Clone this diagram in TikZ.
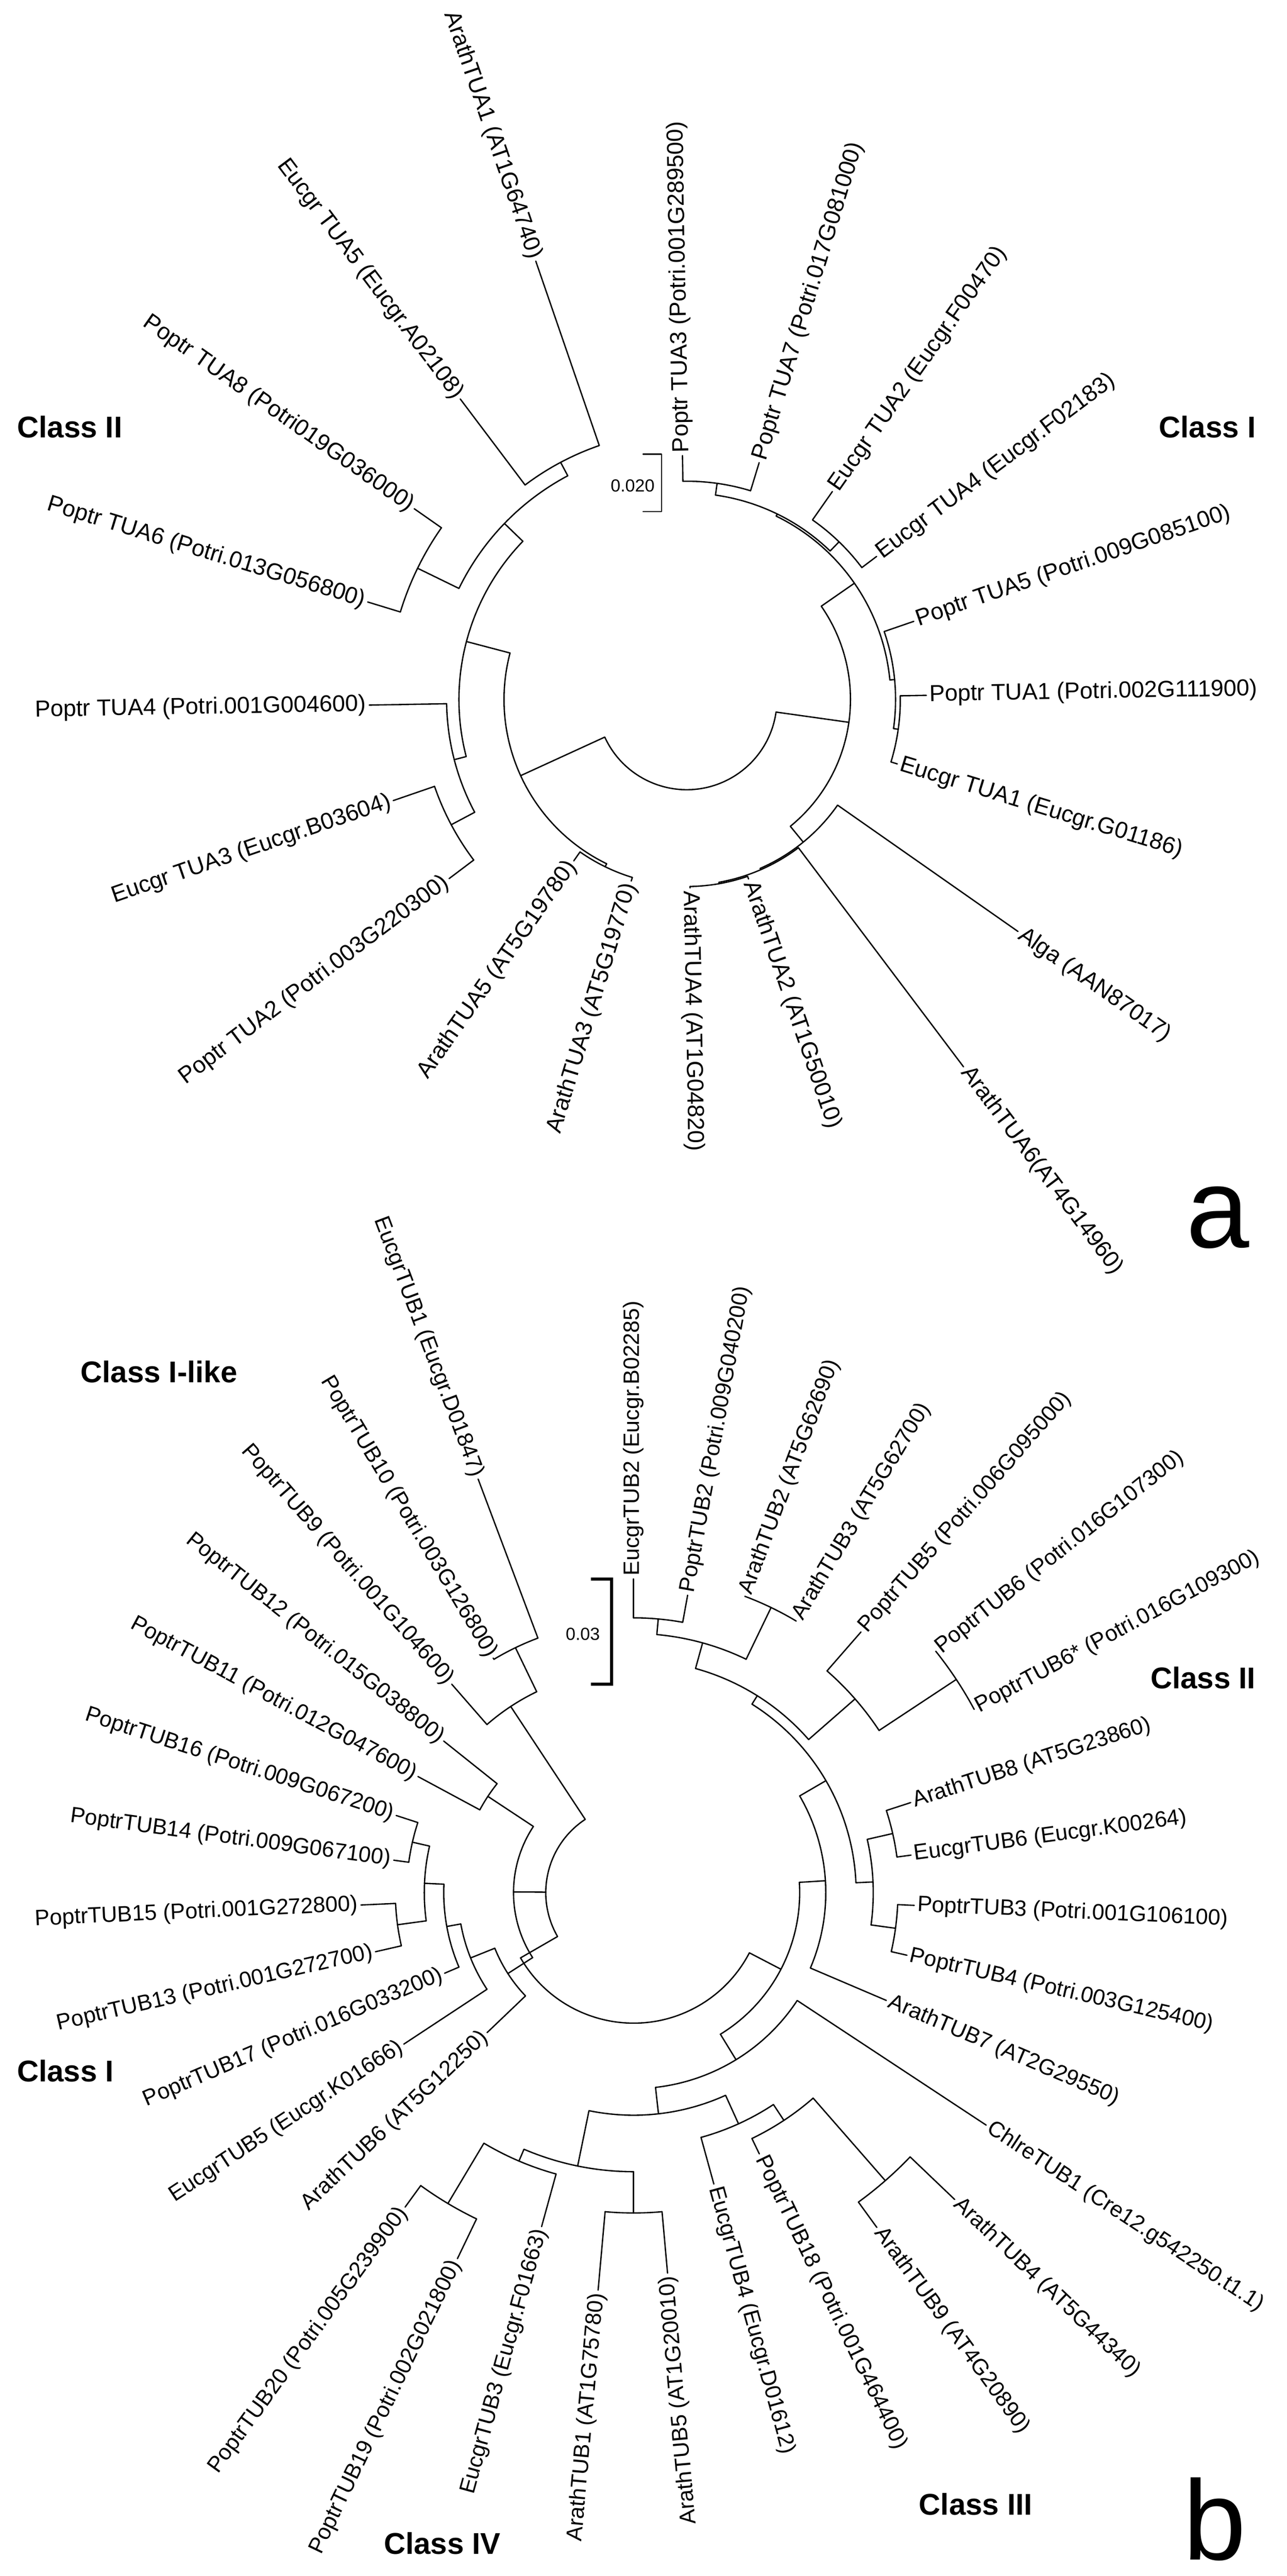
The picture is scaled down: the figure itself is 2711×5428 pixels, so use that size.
\documentclass[tikz,border=0pt]{standalone}
\usepackage{fontspec}
\setmainfont{Liberation Sans}
\tikzset{
  br/.style={line width=0.8pt, line cap=round, line join=round},
  laba/.style={font=\fontsize{13.9}{16}\selectfont, inner sep=0pt},
  labb/.style={font=\fontsize{13.3}{15}\selectfont, inner sep=0pt},
  cls/.style={font=\fontsize{18}{20}\selectfont\bfseries, inner sep=0pt},
  pan/.style={font=\fontsize{68}{70}\selectfont, inner sep=0pt},
  sbl/.style={font=\fontsize{10.5}{12}\selectfont, inner sep=0pt}
}
% internal node: start angle, end angle, radius, parent radius
\newcommand\nd[4]{%
  \pgfmathsetmacro\ndm{(#1+#2)/2}%
  \draw[br] ({#1}:{#3}) arc[start angle={#1},end angle={#2},radius={#3*0.1mm}];
  \draw[br] (\ndm:{#4}) -- (\ndm:{#3});}
% plain arc: start, end, radius
\newcommand\ac[3]{\draw[br] ({#1}:{#3}) arc[start angle={#1},end angle={#2},radius={#3*0.1mm}];}
% leaf, label reading outward: angle, base radius, tip radius, name, text
\newcommand\lfR[5]{%
  \draw[br] ({#1}:{#2}) -- ({#1}:{#3});
  \node[lab,anchor=west,rotate={#1}] (#4) at ({#1}:{#3+6}) {#5};}
% leaf, label flipped
\newcommand\lfL[5]{%
  \draw[br] ({#1}:{#2}) -- ({#1}:{#3});
  \node[lab,anchor=east,rotate={#1+180}] (#4) at ({#1}:{#3+6}) {#5};}
\begin{document}
\begin{tikzpicture}[x=0.1mm,y=0.1mm]
\useasboundingbox (0,0) rectangle (2711,-5428);
\fill[white] (0,0) rectangle (2711,-5428);

% ================= panel a =================
\begin{scope}[shift={(1447,-1474)}, lab/.style={laba}]
\lfR{1}{450}{505}{aTUA1}{Poptr TUA1 (Potri.002G111900)}
\lfR{19}{440}{506}{aTUA5}{Poptr TUA5 (Potri.009G085100)}
\lfR{37}{462}{501}{aETUA4}{Eucgr TUA4 (Eucgr.F02183)}
\lfR{55}{462}{535}{aETUA2}{Eucgr TUA2 (Eucgr.F00470)}
\lfR{73}{460}{522}{aTUA7}{Poptr TUA7 (Potri.017G081000)}
\lfR{91}{460}{514}{aTUA3}{Poptr TUA3 (Potri.001G289500)}
\lfL{109}{566}{977}{aATUA1}{ArathTUA1 (AT1G64740)}
\lfL{127}{566}{793}{aETUA5}{Eucgr TUA5 (Eucgr.A02108)}
\lfL{145}{631}{701}{aTUA8}{Poptr TUA8 (Potri019G036000)}
\lfL{163}{631}{703}{aTUA6}{Poptr TUA6 (Potri.013G056800)}
\lfL{181}{506}{669}{aTUA4}{Poptr TUA4 (Potri.001G004600)}
\lfL{199}{562}{654}{aETUA3}{Eucgr TUA3 (Eucgr.B03604)}
\lfL{217}{562}{627}{aTUA2}{Poptr TUA2 (Potri.003G220300)}
\lfL{235}{392}{415}{aATUA5}{ArathTUA5 (AT5G19780)}
\lfL{253}{392}{400}{aATUA3}{ArathTUA3 (AT5G19770)}
\lfR{271}{394}{397}{aATUA4}{ArathTUA4 (AT1G04820)}
\lfR{289}{394}{400}{aATUA2}{ArathTUA2 (AT1G50010)}
\lfR{307}{391}{969}{aATUA6}{ArathTUA6(AT4G14960)}
\lfR{325}{388}{852}{aAlga}{Alga (AAN87017)}
\lfR{343}{450}{464}{aETUA1}{Eucgr TUA1 (Eucgr.G01186)}
% Class I clade
\nd{-17}{1}{450}{440}
\nd{-8}{19}{440}{430}
\nd{73}{91}{460}{435}
\nd{37}{55}{462}{435}
\nd{46}{82}{435}{430}
\nd{5.5}{64}{430}{345}
% Alga / Arath group
\nd{271}{289}{394}{391}
\nd{280}{307}{391}{388}
\nd{293.5}{325}{388}{345}
\nd{-50.75}{34.75}{345}{190}
% Class II clade
\nd{109}{127}{566}{534}
\nd{145}{163}{631}{534}
\nd{118}{154}{534}{480}
\nd{199}{217}{562}{506}
\nd{181}{208}{506}{480}
\nd{136}{194.5}{480}{385}
\nd{235}{253}{392}{385}
\nd{165.25}{244}{385}{190}
% root
\ac{204.625}{352}{190}
\end{scope}
% scale bar a
\draw[br] (1355,-957) -- (1394,-957) -- (1394,-1078) -- (1355,-1078);
\node[sbl] (asb) at (1333,-1024) {0.020};
\node[cls] (aC2) at (147,-900) {Class II};
\node[cls] (aC1) at (2544,-900) {Class I};
\node[pan] (pa) at (2566,-2566) {a};

% ================= panel b =================
\begin{scope}[shift={(1335,-3988)}, lab/.style={labb}]
\lfR{90}{579}{661}{bETUB2}{EucgrTUB2 (Eucgr.B02285)}
\lfR{79.7}{579}{637}{bPTUB2}{PoptrTUB2 (Potri.009G040200)}
\lfR{69.4}{667}{667}{bATUB2}{ArathTUB2 (AT5G62690)}
\lfR{59.1}{667}{667}{bATUB3}{ArathTUB3 (AT5G62700)}
\lfR{48.9}{620}{729}{bPTUB5}{PoptrTUB5 (Potri.006G095000)}
\lfR{38.6}{815}{815}{bPTUB6}{PoptrTUB6 (Potri.016G107300)}
\lfR{28.3}{815}{815}{bPTUB6s}{PoptrTUB6* (Potri.016G109300)}
\lfR{18}{560}{614}{bATUB8}{ArathTUB8 (AT5G23860)}
\lfR{7.7}{560}{590}{bETUB6}{EucgrTUB6 (Eucgr.K00264)}
\lfR{-2.6}{557}{592}{bPTUB3}{PoptrTUB3 (Potri.001G106100)}
\lfR{-12.9}{557}{591}{bPTUB4}{PoptrTUB4 (Potri.003G125400)}
\lfR{-23.1}{405}{579}{bATUB7}{ArathTUB7 (AT2G29550)}
\lfR{-33.4}{413}{890}{bCTUB1}{ChlreTUB1 (Cre12.g542250.t1.1)}
\lfR{-43.7}{806}{936}{bATUB4}{ArathTUB4 (AT5G44340)}
\lfR{-54}{806}{872}{bATUB9}{ArathTUB9 (AT4G20890)}
\lfR{-64.3}{575}{611}{bPTUB18}{PoptrTUB18 (Potri.001G464400)}
\lfR{-74.6}{535}{637}{bETUB4}{EucgrTUB4 (Eucgr.D01612)}
\lfL{-84.9}{675}{805}{bATUB5}{ArathTUB5 (AT1G20010)}
\lfL{-95.1}{675}{841}{bATUB1}{ArathTUB1 (AT1G75780)}
\lfL{-105.4}{615}{730}{bETUB3}{EucgrTUB3 (Eucgr.F01663)}
\lfL{-115.7}{763}{856}{bPTUB19}{PoptrTUB19 (Potri.002G021800)}
\lfL{-126}{763}{819}{bPTUB20}{PoptrTUB20 (Potri.005G239900)}
\lfL{-136.3}{315}{427}{bATUB6}{ArathTUB6 (AT5G12250)}
\lfL{-146.6}{370}{580}{bETUB5}{EucgrTUB5 (Eucgr.K01666)}
\lfL{-156.9}{400}{433}{bPTUB17}{PoptrTUB17 (Potri.016G033200)}
\lfL{-167.1}{502}{558}{bPTUB13}{PoptrTUB13 (Potri.001G272700)}
\lfL{-177.4}{502}{575}{bPTUB15}{PoptrTUB15 (Potri.001G272800)}
\lfL{172.3}{478}{510}{bPTUB14}{PoptrTUB14 (Potri.009G067100)}
\lfL{162}{478}{526}{bPTUB16}{PoptrTUB16 (Potri.009G067200)}
\lfL{151.7}{368}{516}{bPTUB11}{PoptrTUB11 (Potri.012G047600)}
\lfL{141.4}{368}{512}{bPTUB12}{PoptrTUB12 (Potri.015G038800)}
\lfL{131.1}{470}{583}{bPTUB9}{PoptrTUB9 (Potri.001G104600)}
\lfL{120.9}{573}{576}{bPTUB10}{PoptrTUB10 (Potri.003G126800)}
\lfL{110.6}{573}{931}{bETUB1}{EucgrTUB1 (Eucgr.D01847)}
% Class II / upper right
\nd{79.7}{90}{579}{546}
\nd{59.1}{69.4}{667}{546}
\nd{64.25}{84.85}{546}{490}
\nd{28.3}{38.6}{815}{620}
\nd{33.45}{48.9}{620}{490}
\nd{41.175}{74.55}{490}{469}
\nd{7.7}{18}{560}{505}
\nd{-12.9}{-2.6}{557}{505}
\nd{-7.75}{12.85}{505}{469}
\nd{2.55}{57.8625}{469}{405}
\nd{-23.1}{30.2}{405}{350}
% Class III / IV
\nd{-54}{-43.7}{806}{575}
\nd{-64.3}{-48.85}{575}{535}
\nd{-74.6}{-56.575}{535}{469}
\nd{-126}{-115.7}{763}{615}
\nd{-120.85}{-105.4}{615}{588}
\nd{-95.1}{-84.9}{675}{588}
\nd{-113.125}{-90}{588}{469}
\nd{-101.5625}{-65.5875}{469}{413}
\nd{-83.575}{-33.4}{413}{350}
\nd{-58.4875}{3.55}{350}{275}
% Class I / Class I-like
\nd{110.6}{120.9}{573}{470}
\nd{115.75}{131.1}{470}{185}
\nd{141.4}{151.7}{368}{253}
\nd{162}{172.3}{478}{441}
\nd{182.6}{192.9}{502}{441}
\nd{167.15}{187.75}{441}{400}
\nd{177.45}{203.1}{400}{370}
\nd{190.275}{213.4}{370}{315}
\nd{201.84}{223.7}{315}{253}
\nd{146.55}{212.77}{253}{185}
% central arcs
\ac{123.425}{210}{185}
\draw[br] (210:185) -- (210:275);
\ac{210}{332.53}{275}
\end{scope}
% scale bar b
\draw[line width=1.8pt] (1245,-3327) -- (1289,-3327) -- (1289,-3549) -- (1245,-3549);
\node[sbl] (bsb) at (1228,-3443) {0.03};
\node[cls] (bC1l) at (335,-2891) {Class I-like};
\node[cls] (bC2) at (2535,-3535) {Class II};
\node[cls] (bC1) at (138,-4364) {Class I};
\node[cls] (bC4) at (932,-5359) {Class IV};
\node[cls] (bC3) at (2056,-5277) {Class III};
\node[pan] (pb) at (2559,-5308) {b};
\end{tikzpicture}
\end{document}
